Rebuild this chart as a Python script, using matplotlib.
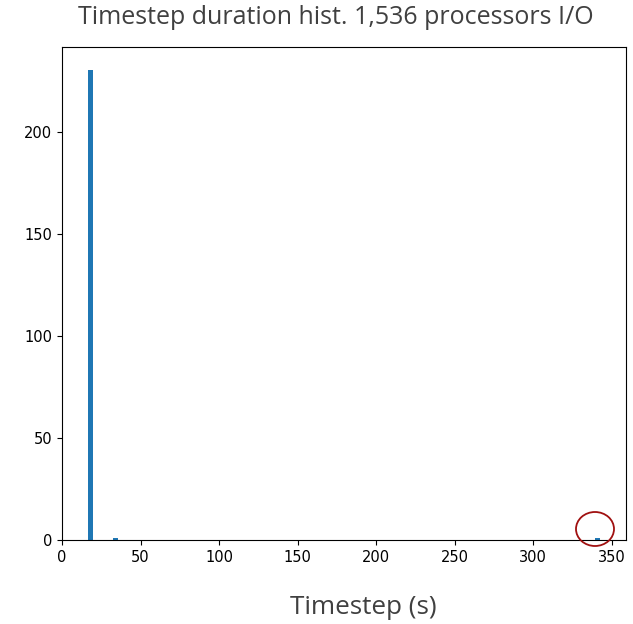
import matplotlib
matplotlib.use("Agg")
import matplotlib.pyplot as plt
from matplotlib.patches import Ellipse

# Data
durations = [16.3, 34.0, 342.8]   # timestep durations (s)
counts = [230, 1, 1]              # number of timesteps with that duration
n_bins = 100
title = "Timestep duration hist. 1,536 processors I/O"
xlabel = "Timestep (s)"

fig = plt.figure(figsize=(6.33, 6.24), dpi=100)
ax = fig.add_axes([62/633, 1-540/624, (626-62)/633, (540-47)/624])
ax.hist(durations, bins=n_bins, weights=counts, color="#1f77b4")
ax.set_xticks([0, 50, 100, 150, 200, 250, 300, 350])
ax.set_yticks([0, 50, 100, 150, 200])
ax.tick_params(labelsize=10.5)

fig.text(336/633, 1-17/624, title, ha="center", va="center",
         fontsize=18, family=["Open Sans", "DejaVu Sans"], color="#404040")
fig.text(363/633, 1-607/624, xlabel, ha="center", va="center",
         fontsize=18.8, family=["Open Sans", "DejaVu Sans"], color="#404040")

# red circle highlighting the outlier bar (annotation)
circ = Ellipse((595/633, 1-529/624), 38/633, 34/624, transform=fig.transFigure,
               fill=False, edgecolor="#a01010", linewidth=1.3)
fig.add_artist(circ)

fig.savefig("out.png", dpi=100)
